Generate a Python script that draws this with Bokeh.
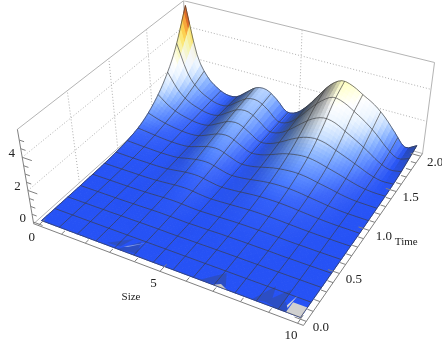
import numpy as np
from bokeh.plotting import figure
from bokeh.models import Range1d
from bokeh.core.properties import value
from bokeh.embed import file_html
from bokeh.resources import INLINE

# Surface heights: one list per time (2/11 apart), 23 sizes (10/22 apart)
z_t00 = [0,0,0,0,0,0,0,0,0,0,0,0,0,0,0,0,0,0,0,0,0,0,0]
z_t01 = [0,0,0,0,0,0,0,0,0,0,0,0,0,0,0,0,0,0,0,0,0,0,0]
z_t02 = [0,0,0,0,0,0.01,0.01,0.02,0.02,0.01,0,0.01,0.01,0.02,0.02,0.02,0.01,0.01,0,0,0,0,0]
z_t03 = [0.01,0.01,0.01,0.01,0.01,0.02,0.04,0.06,0.06,0.03,0.01,0.02,0.03,0.05,0.05,0.05,0.04,0.03,0.01,0.01,0,0,0]
z_t04 = [0.03,0.03,0.03,0.03,0.03,0.05,0.09,0.14,0.15,0.08,0.03,0.05,0.08,0.11,0.13,0.12,0.10,0.07,0.04,0.02,0.01,0,0]
z_t05 = [0.08,0.07,0.06,0.06,0.06,0.09,0.18,0.27,0.28,0.16,0.06,0.09,0.15,0.22,0.25,0.25,0.22,0.16,0.10,0.05,0.02,0.01,0]
z_t06 = [0.20,0.16,0.13,0.10,0.10,0.14,0.30,0.43,0.45,0.26,0.10,0.14,0.25,0.37,0.44,0.45,0.40,0.30,0.20,0.10,0.04,0.02,0.01]
z_t07 = [0.45,0.35,0.25,0.18,0.15,0.20,0.42,0.65,0.68,0.40,0.15,0.20,0.38,0.58,0.70,0.75,0.68,0.52,0.37,0.20,0.08,0.04,0.03]
z_t08 = [1.00,0.65,0.42,0.28,0.20,0.26,0.55,0.85,0.90,0.55,0.20,0.28,0.55,0.88,1.10,1.20,1.10,0.88,0.65,0.40,0.17,0.05,0.06]
z_t09 = [1.90,1.10,0.62,0.38,0.24,0.30,0.68,1.05,1.10,0.72,0.25,0.35,0.75,1.25,1.70,1.90,1.80,1.45,1.10,0.72,0.32,0.07,0.14]
z_t10 = [3.30,1.70,0.90,0.50,0.28,0.33,0.78,1.20,1.25,0.85,0.28,0.40,0.95,1.70,2.35,2.75,2.60,2.20,1.75,1.20,0.55,0.12,0.30]
z_t11 = [5.50,2.50,1.20,0.60,0.30,0.35,0.85,1.35,1.40,0.95,0.30,0.45,1.10,2.00,2.85,3.30,3.15,2.75,2.35,1.75,0.95,0.18,0.50]
z_rows = [z_t00,z_t01,z_t02,z_t03,z_t04,z_t05,z_t06,z_t07,z_t08,z_t09,z_t10,z_t11]
MESH_CELLS = 13

# small faults of the surface near its front edge: (size, time) outlines with a colour
fault_s = [[2.7,3.4,3.2],[3.2,3.9,3.7],[3.3,3.45,3.9],[6.4,7.3,7.0],[6.9,7.4,7.1],[8.3,8.9,8.7],[8.7,9.3,9.2],[8.9,9.4,9.0],
           [9.35,9.45,9.5],[9.0,9.6,9.3],[9.5,10,10,9.5]]
fault_t = [[0.02,0.14,0.03],[0.0,0.02,0.14],[0.04,0.05,0.15],[0.0,0.02,0.14],[0.0,0.0,0.03],[0.0,0.03,0.18],[0.02,0.0,0.2],[0.18,0.12,0.17],
           [0.01,0.01,0.17],[0.0,0.0,0.08],[0,0,0.1,0.1]]
fault_c = ["#2c4ec4","#2c4ec4","#7f97e8","#2c4ec4","#c8c8c8","#2c4ec4","#2c4ec4","#2c4ec4",
           "#d8d8d8","#2c4ec4","#d0d0d0"]

size_major = [0, 5, 10]
size_labels = ["0", "5", "10"]
time_major = [0.0, 0.5, 1.0, 1.5, 2.0]
time_labels = ["0.0", "0.5", "1.0", "1.5", "2.0"]
z_major = [0, 2, 4]
z_labels = ["0", "2", "4"]

S0, S1, T0, T1, Z0, Z1 = -0.2, 10.2, -0.04, 2.04, -0.11, 5.61
SUB_S, SUB_T = 3, 6

pairs = [((S0,T0,Z0),(33,223)), ((S1,T0,Z0),(303,325)), ((S1,T1,Z0),(422,153)), ((S0,T1,Z0),(187,86)),
         ((S0,T0,Z1),(17,129)), ((S1,T1,Z1),(434,62)), ((S0,T1,Z1),(183,0))]
A = []
for (X,Y,Z_),(u,v) in pairs:
    A.append([X,Y,Z_,1,0,0,0,0,-u*X,-u*Y,-u*Z_,-u])
    A.append([0,0,0,0,X,Y,Z_,1,-v*X,-v*Y,-v*Z_,-v])
P = np.linalg.svd(np.array(A,float))[2][-1].reshape(3,4)
if P[2] @ np.array([5,1,0,1]) < 0:
    P = -P

def proj(s, t, z):
    s, t, z = np.asarray(s,float), np.asarray(t,float), np.asarray(z,float)
    w = P[2,0]*s+P[2,1]*t+P[2,2]*z+P[2,3]
    return (P[0,0]*s+P[0,1]*t+P[0,2]*z+P[0,3])/w, (P[1,0]*s+P[1,1]*t+P[1,2]*z+P[1,3])/w, w

def refine1(a, n):
    m = a.shape[0]
    out = []
    for i in range(m-1):
        p1, p2 = a[i], a[i+1]
        p0 = a[i-1] if i > 0 else 2*p1-p2
        p3 = a[i+2] if i+2 < m else 2*p2-p1
        for k in range(n):
            u = k/n
            out.append(0.5*((2*p1)+(-p0+p2)*u+(2*p0-5*p1+4*p2-p3)*u*u+(-p0+3*p1-3*p2+p3)*u**3))
    out.append(a[-1])
    return np.array(out)

Z = np.array(z_rows, float)
ZF = refine1(refine1(Z, SUB_T).T, SUB_S).T
ZF = np.where(np.abs(ZF) < 0.004, 0.0, ZF)
nt, ns = ZF.shape
ss = np.linspace(0, 10, ns)
tt = np.linspace(0, 2, nt)
SS, TT = np.meshgrid(ss, tt)
U, V, W = proj(SS, TT, ZF)

stops_z = [0, 0.25, 0.5, 1.0, 1.5, 2.0, 2.6, 3.3, 4.0, 4.6, 5.1]
stops_r = [38, 50, 75, 130, 195, 235, 255, 255, 255, 245, 190]
stops_g = [82, 95, 125, 175, 220, 245, 255, 255, 225, 150, 50]
stops_b = [245, 250, 255, 255, 255, 255, 255, 190, 90, 50, 30]
dz_ds = np.gradient(ZF/(Z1-Z0)*0.4, ss/10, axis=1)
dz_dt = np.gradient(ZF/(Z1-Z0)*0.4, tt/2, axis=0)
norm = np.sqrt(dz_ds**2+dz_dt**2+1)
L = np.array([0.55,-0.15,0.82]); L = L/np.linalg.norm(L)
D = (-dz_ds*L[0]-dz_dt*L[1]+L[2])/norm
SH = 0.35+0.65*D/L[2]

def cell_colour(j, i):
    zm = ZF[j:j+2, i:i+2].mean()
    sh = SH[j:j+2, i:i+2].mean()
    sh = sh+(1-sh)*np.clip(zm-3.0, 0, 1) if sh < 1 else sh
    c = np.array([np.interp(zm, stops_z, q) for q in (stops_r, stops_g, stops_b)])
    c = c*min(sh,1)+(255-c)*max(sh-1,0)*0.7
    c = np.clip(c,0,255).astype(int)
    return "#%02x%02x%02x" % tuple(c)

p = figure(width=442, height=343, output_backend="svg", toolbar_location=None,
           x_range=Range1d(0,442), y_range=Range1d(343,0), x_axis_type=None, y_axis_type=None,
           min_border=0, outline_line_color=None, background_fill_color="white", border_fill_color="white")
p.grid.visible = False
p.styles = {"position":"fixed","left":"0px","top":"0px"}

def seg(a, b, n=2):
    q = np.linspace(0,1,n)
    u,v,_ = proj(a[0]+(b[0]-a[0])*q, a[1]+(b[1]-a[1])*q, a[2]+(b[2]-a[2])*q)
    return list(u), list(v)

gx, gy = [], []
for t in time_major[1:-1]:
    u,v = seg((S0,t,Z0),(S0,t,Z1)); gx.append(u); gy.append(v)
for z in z_major[1:]:
    u,v = seg((S0,T0,z),(S0,T1,z)); gx.append(u); gy.append(v)
    u,v = seg((S0,T1,z),(S1,T1,z)); gx.append(u); gy.append(v)
u,v = seg((5,T1,Z0),(5,T1,Z1)); gx.append(u); gy.append(v)
p.multi_line(gx, gy, line_color="#b0b0b0", line_width=1, line_dash="1 2")

bx, by = [], []
for a,b in [((S0,T0,Z1),(S0,T1,Z1)), ((S0,T1,Z1),(S1,T1,Z1)), ((S1,T1,Z1),(S1,T1,Z0)),
            ((S0,T0,Z0),(S0,T1,Z0)), ((S0,T1,Z0),(S1,T1,Z0)), ((S0,T1,Z0),(S0,T1,Z1))]:
    u,v = seg(a,b); bx.append(u); by.append(v)
p.multi_line(bx, by, line_color="#b4b4b4", line_width=1)

xs, ys, cols = [], [], []
for j in range(nt-2, -1, -1):
    for i in sorted(range(ns-1), key=lambda i: -W[j:j+2,i:i+2].mean()):
        xs.append([U[j,i],U[j,i+1],U[j+1,i+1],U[j+1,i]])
        ys.append([V[j,i],V[j,i+1],V[j+1,i+1],V[j+1,i]])
        cols.append(cell_colour(j,i))
p.patches(xs, ys, fill_color=cols, line_color=cols, line_width=1)

fx, fy = [], []
for a,b in zip(fault_s, fault_t):
    u,v,_ = proj(a,b,[0.0]*len(a)); fx.append(list(u)); fy.append(list(v))
p.patches(fx, fy, fill_color=fault_c, line_color=None)

lx, ly = [], []
for k in range(MESH_CELLS+1):
    sv = 10*k/MESH_CELLS
    zz = np.array([np.interp(sv, ss, ZF[j]) for j in range(nt)])
    u,v,_ = proj(np.full(nt,sv), tt, zz); lx.append(list(u)); ly.append(list(v))
    tv = 2*k/MESH_CELLS
    zz = np.array([np.interp(tv, tt, ZF[:,i]) for i in range(ns)])
    u,v,_ = proj(ss, np.full(ns,tv), zz); lx.append(list(u)); ly.append(list(v))
p.multi_line(lx, ly, line_color="#3c3c3c", line_alpha=0.65, line_width=1)

ax, ay = [], []
for a,b in [((S0,T0,Z0),(S1,T0,Z0)), ((S1,T0,Z0),(S1,T1,Z0)), ((S0,T0,Z0),(S0,T0,Z1))]:
    u,v = seg(a,b); ax.append(u); ay.append(v)
for k in range(0,11):
    L_ = 0.08 if k % 5 == 0 else 0.04
    u,v = seg((k,T0,Z0),(k,T0+L_,Z0)); ax.append(u); ay.append(v)
for k in range(0,21):
    tv = k/10
    L_ = 0.4 if k % 5 == 0 else 0.2
    u,v = seg((S1,tv,Z0),(S1-L_,tv,Z0)); ax.append(u); ay.append(v)
for k in range(0,11):
    zv = k/2
    L_ = 0.4 if k % 4 == 0 else 0.2
    u,v = seg((S0,T0,zv),(S0+L_,T0,zv)); ax.append(u); ay.append(v)
p.multi_line(ax, ay, line_color="#808080", line_width=1)

tx, ty, tl = [], [], []
for s,l in zip(size_major,size_labels):
    u,v,_ = proj(s,T0,Z0); tx.append(float(u)-6.5); ty.append(float(v)+11.5); tl.append(l)
for t,l in zip(time_major,time_labels):
    u,v,_ = proj(S1,t,Z0); tx.append(float(u)+14.5); ty.append(float(v)+5.5); tl.append(l)
for z,l in zip(z_major,z_labels):
    u,v,_ = proj(S0,T0,z); tx.append(float(u)-10.5); ty.append(float(v)-4); tl.append(l)
p.text(tx, ty, text=tl, text_font=value("Liberation Serif"), text_font_size="13px",
       text_align="center", text_baseline="middle", text_color="#222222")
u,v,_ = proj(5,T0,Z0)
p.text([float(u)-29],[float(v)+25],text=["Size"],text_font=value("Liberation Serif"),text_font_size="11px",
       text_align="center", text_baseline="middle", text_color="#222222")
u,v,_ = proj(S1,1.0,Z0)
p.text([float(u)+37],[float(v)+11],text=["Time"],text_font=value("Liberation Serif"),text_font_size="11px",
       text_align="center", text_baseline="middle", text_color="#222222")

open("out.html","w").write(file_html(p, INLINE))
